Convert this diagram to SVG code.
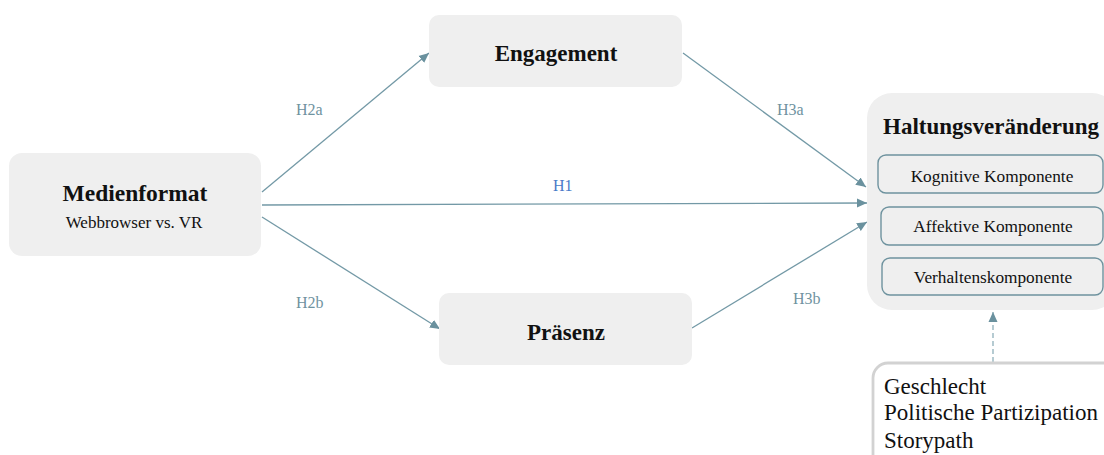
<svg xmlns="http://www.w3.org/2000/svg" width="1104" height="455" viewBox="0 0 1104 455">
  <style>
    .box { fill: #efefef; stroke: none; }
    .sub { fill: #efefef; stroke: #6f939f; stroke-width: 1.4; }
    .ctrl { fill: #ffffff; stroke: #d2d2d2; stroke-width: 2.8; }
    .title { font-family: "Liberation Serif", "Times New Roman", serif; font-weight: bold; fill: #111; text-anchor: middle; }
    .txt { font-family: "Liberation Serif", "Times New Roman", serif; fill: #111; }
    .lbl { font-family: "Liberation Serif", "Times New Roman", serif; font-size: 16px; fill: #6f939f; }
    .edge { stroke: #7399a6; stroke-width: 1.3; fill: none; marker-end: url(#arrow); }
    .dash { stroke: #8fb0ba; stroke-width: 1.3; fill: none; stroke-dasharray: 5 3; marker-end: url(#arrow); }
  </style>
  <defs>
    <marker id="arrow" viewBox="0 0 10 10" refX="10" refY="5" markerWidth="10" markerHeight="10" markerUnits="userSpaceOnUse" orient="auto">
      <path d="M0,0.5 L10,5 L0,9.5 Z" fill="#6a919e"/>
    </marker>
  </defs>

  <g id="connectors">
    <line class="edge" x1="262" y1="192" x2="429" y2="53"/>
    <line class="edge" x1="262" y1="205" x2="867" y2="203"/>
    <line class="edge" x1="262" y1="217" x2="440" y2="329"/>
    <line class="edge" x1="683" y1="53" x2="866" y2="187"/>
    <line class="edge" x1="692" y1="328" x2="867" y2="222"/>
    <line class="dash" x1="993" y1="362" x2="993" y2="312"/>
    <text class="lbl" x="296" y="115">H2a</text>
    <text class="lbl" x="296" y="308">H2b</text>
    <text class="lbl" x="777" y="115">H3a</text>
    <text class="lbl" x="793" y="304">H3b</text>
    <text class="lbl" x="553" y="191" style="fill:#4a7bc8">H1</text>
  </g>

  <g id="medienformat">
    <rect class="box" x="9" y="153" width="252" height="103" rx="13"/>
    <text class="title" x="135" y="201" font-size="23.5">Medienformat</text>
    <text class="txt" x="134" y="228" font-size="17" text-anchor="middle">Webbrowser vs. VR</text>
  </g>

  <g id="engagement">
    <rect class="box" x="429" y="15" width="253" height="72" rx="10"/>
    <text class="title" x="556" y="61" font-size="23">Engagement</text>
  </g>

  <g id="praesenz">
    <rect class="box" x="439" y="293" width="253" height="72" rx="10"/>
    <text class="title" x="566" y="340" font-size="23">Präsenz</text>
  </g>

  <g id="haltungsveraenderung">
    <rect class="box" x="867" y="93" width="250" height="217" rx="25"/>
    <text class="title" x="991" y="134" font-size="23">Haltungsveränderung</text>
    <rect class="sub" x="878" y="155" width="225" height="38" rx="8"/>
    <text class="txt" x="992" y="182" font-size="17.3" text-anchor="middle">Kognitive Komponente</text>
    <rect class="sub" x="881" y="207" width="222" height="38" rx="8"/>
    <text class="txt" x="993" y="232" font-size="17.3" text-anchor="middle">Affektive Komponente</text>
    <rect class="sub" x="882" y="258" width="221" height="37" rx="8"/>
    <text class="txt" x="993" y="283" font-size="17.3" text-anchor="middle">Verhaltenskomponente</text>
  </g>

  <g id="kontrollvariablen">
    <rect class="ctrl" x="873" y="363" width="250" height="110" rx="15"/>
    <text class="txt" x="884" y="394" font-size="23">Geschlecht</text>
    <text class="txt" x="884" y="420" font-size="23">Politische Partizipation</text>
    <text class="txt" x="884" y="448" font-size="23">Storypath</text>
  </g>
</svg>
